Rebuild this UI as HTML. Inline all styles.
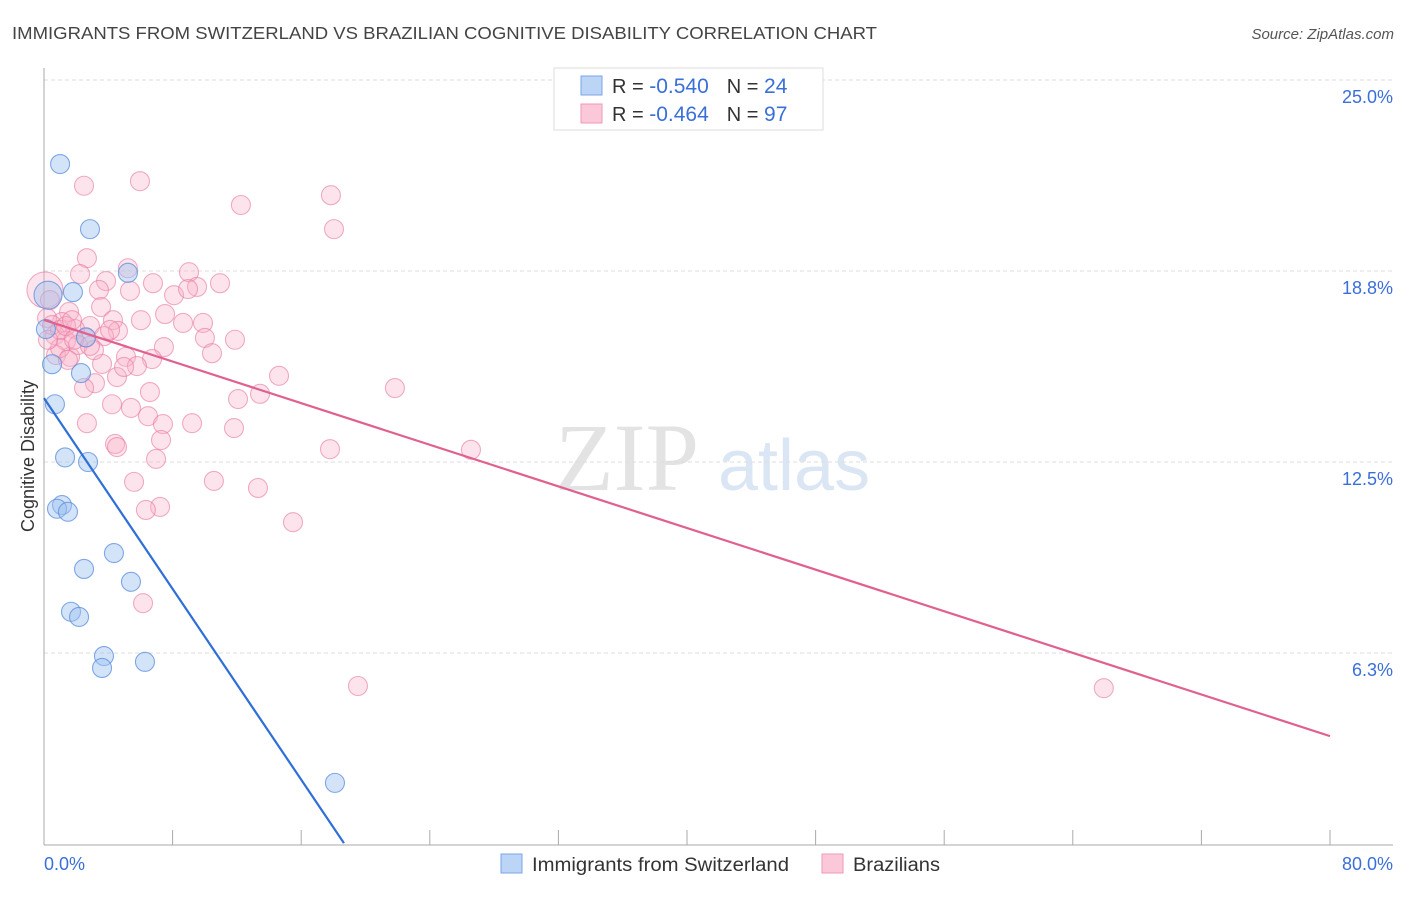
<!DOCTYPE html>
<html><head><meta charset="utf-8"><style>
body{margin:0;background:#fff;width:1406px;height:892px;overflow:hidden;font-family:"Liberation Sans",sans-serif}
</style></head><body>
<svg id="c" width="1406" height="892" xmlns="http://www.w3.org/2000/svg">
<text x="12" y="39" font-size="17.5" fill="#444" textLength="865" lengthAdjust="spacingAndGlyphs">IMMIGRANTS FROM SWITZERLAND VS BRAZILIAN COGNITIVE DISABILITY CORRELATION CHART</text>
<text x="1394" y="39" font-size="15" fill="#555" font-style="italic" text-anchor="end">Source: ZipAtlas.com</text>
<g>
<text x="555" y="490" font-size="96" fill="#e3e3e3" font-family="Liberation Serif,serif">ZIP</text>
<text x="718" y="490" font-size="72" fill="#dbe6f5">atlas</text>
</g>
<text transform="translate(34,456) rotate(-90)" font-size="18" fill="#333" text-anchor="middle">Cognitive Disability</text>
<g id="grid"></g><g id="axes"></g><g id="marks"></g><g id="lines"></g>
<g>
<rect x="554" y="68" width="269" height="62" fill="#fff" stroke="#ddd"/>
<rect x="581" y="76" width="21" height="19" fill="#bcd4f5" stroke="#7aa6e6"/>
<rect x="581" y="104" width="21" height="19" fill="#fac8d8" stroke="#ee9ab6"/>
<text x="612" y="93" font-size="20" fill="#333">R = <tspan fill="#3a6fd8" font-size="21">-0.540</tspan><tspan dx="18">N = </tspan><tspan fill="#3a6fd8" font-size="21">24</tspan></text>
<text x="612" y="121" font-size="20" fill="#333">R = <tspan fill="#3a6fd8" font-size="21">-0.464</tspan><tspan dx="18">N = </tspan><tspan fill="#3a6fd8" font-size="21">97</tspan></text>
</g>
<g>
<rect x="501" y="854" width="21" height="19" fill="#bcd4f5" stroke="#7aa6e6"/>
<text x="532" y="871" font-size="19" fill="#333" textLength="257" lengthAdjust="spacingAndGlyphs">Immigrants from Switzerland</text>
<rect x="822" y="854" width="21" height="19" fill="#fac8d8" stroke="#ee9ab6"/>
<text x="853" y="871" font-size="19" fill="#333" textLength="87" lengthAdjust="spacingAndGlyphs">Brazilians</text>
</g>
</svg>
<script>
const yTicks=[6.25,12.5,18.75,25];
const yTickLabels=["6.3%","12.5%","18.8%","25.0%"];
const xTickLabels=["0.0%","80.0%"];
const blueX=[1.0,2.86,5.22,1.80,2.61,0.50,0.68,2.30,1.31,2.74,1.12,0.81,1.49,4.35,2.49,5.41,1.68,2.18,3.73,3.61,6.28,18.1,0.25,0.12];
const blueY=[22.25,20.12,18.69,18.06,16.58,15.70,14.39,15.41,12.65,12.50,11.09,10.97,10.87,9.52,9.00,8.58,7.60,7.43,6.15,5.76,5.96,2.00,17.96,16.85];
const pinkX=[2.49,5.97,12.25,17.85,18.04,2.67,5.22,2.24,9.02,10.95,6.78,9.52,3.86,5.35,3.42,8.09,8.96,3.55,1.56,6.03,4.29,7.53,8.65,9.89,1.12,2.86,1.93,4.60,0.68,3.73,2.61,10.01,11.88,1.37,7.46,10.45,0.75,1.62,5.10,6.72,5.78,3.61,4.54,4.98,14.62,21.83,3.17,6.59,13.44,2.49,12.07,4.23,5.41,6.47,7.40,9.21,2.67,11.82,4.42,4.54,7.28,17.79,26.56,6.97,10.57,13.31,5.60,7.22,6.34,15.49,6.16,19.53,65.93,0.06,0.37,0.19,0.50,1.00,1.37,1.74,2.11,3.11,1.00,1.87,0.25,2.86,4.11,1.49];
const pinkY=[21.54,21.69,20.91,21.23,20.12,19.17,18.84,18.65,18.71,18.35,18.35,18.23,18.42,18.10,18.13,17.96,18.16,17.57,17.41,17.14,17.14,17.34,17.05,17.05,17.08,16.95,16.85,16.79,16.65,16.62,16.56,16.56,16.50,16.46,16.26,16.06,16.00,15.94,15.94,15.87,15.64,15.71,15.28,15.61,15.32,14.92,15.08,14.79,14.73,14.92,14.56,14.39,14.27,14.00,13.74,13.77,13.77,13.61,13.09,12.99,13.22,12.92,12.90,12.60,11.88,11.65,11.85,11.03,10.93,10.53,7.88,5.17,5.10,18.13,17.80,17.21,16.98,16.82,16.95,17.14,16.33,16.16,16.23,16.50,16.50,16.30,16.82,15.84];
const blueTrendX=[0,18.66], blueTrendY=[14.59,0.03];
const pinkTrendX=[0,80], pinkTrendY=[17.15,3.53];
const NS="http://www.w3.org/2000/svg";
const X0=44,X1=1330,Y0=844,Y1=80;
const sx=v=>X0+(v/80)*(X1-X0);
const sy=v=>Y0-(v/25)*(Y0-Y1);
function mk(tag,attrs,parent){const e=document.createElementNS(NS,tag);for(const k in attrs)e.setAttribute(k,attrs[k]);document.getElementById(parent).appendChild(e);return e;}
yTicks.forEach((t,i)=>{
  const g=mk('line',{x1:44,x2:1393,y1:sy(t),y2:sy(t),stroke:'#ddd','stroke-dasharray':'4,3'},'grid');
  
  
  const l=mk('text',{x:1393,y:sy(t)+23,'font-size':18,fill:'#3a6fd8','text-anchor':'end'},'grid');
  l.textContent=yTickLabels[i];
  
  
});
const ya=mk('line',{x1:44,x2:44,y1:68,y2:845,stroke:'#aaa'},'axes');


const xa=mk('line',{x1:44,x2:1393,y1:845,y2:845,stroke:'#aaa'},'axes');


for(let i=0;i<=10;i++){
  const v=i*8;
  const t=mk('line',{x1:sx(v),x2:sx(v),y1:830,y2:845,stroke:'#aaa'},'axes');
  
  
}
[[0,'start',44],[80,'end',1393]].forEach((d,i)=>{
  const l=mk('text',{x:d[2],y:870,'font-size':18,fill:'#3a6fd8','text-anchor':d[1]},'axes');
  l.textContent=xTickLabels[i];
  
  
});
pinkX.forEach((v,i)=>{
  const r=(i===73)?18:9.5;
  const c=mk('circle',{cx:sx(v),cy:sy(pinkY[i]),r:r,fill:'rgba(248,178,200,0.35)',stroke:'rgba(230,120,160,0.6)','stroke-width':1.1},'marks');
  
  
});
blueX.forEach((v,i)=>{
  const r=(i===22)?14:9.5;
  const c=mk('circle',{cx:sx(v),cy:sy(blueY[i]),r:r,fill:'rgba(160,196,240,0.45)',stroke:'rgba(90,140,220,0.75)','stroke-width':1.1},'marks');
  
  
});
const bl=mk('line',{x1:sx(blueTrendX[0]),y1:sy(blueTrendY[0]),x2:sx(blueTrendX[1]),y2:sy(blueTrendY[1]),stroke:'#2f6fd6','stroke-width':2.2},'lines');


const pl=mk('line',{x1:sx(pinkTrendX[0]),y1:sy(pinkTrendY[0]),x2:sx(pinkTrendX[1]),y2:sy(pinkTrendY[1]),stroke:'#e0608e','stroke-width':2.2},'lines');


</script>
</body></html>
